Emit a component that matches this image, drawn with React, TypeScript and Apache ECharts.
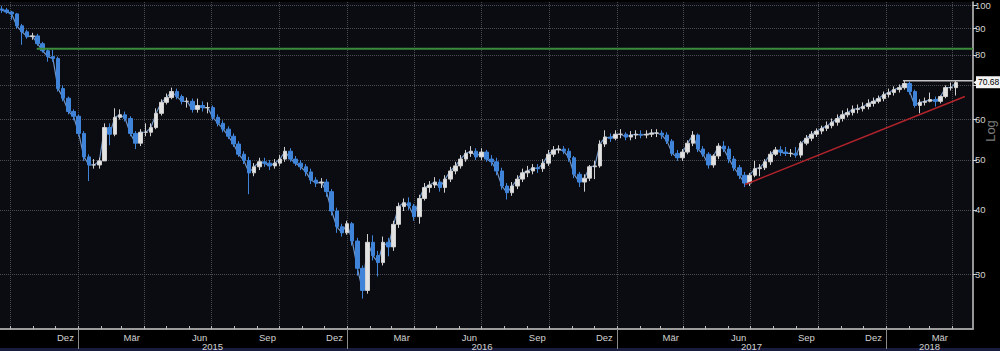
import React, { useEffect, useRef } from "react";
import * as echarts from "echarts";

// ---------- data ----------
const WEEK_START = Date.UTC(2014, 8, 19); // first weekly bar (Fri)
const FIRST_OPEN = 98.2;

const closes = [
  97.8, 96.9, 96.1, 91.1, 88.7, 86.8, 87.1, 84.1, 81.5, 79.4,
  78.7, 68.8, 65.9, 62.1, 60.8, 56.3, 50.7, 48.9, 48.9, 49.8,
  57.8, 56.1, 60.5, 61.2, 60.2, 56.3, 53.9, 56.6, 56.6, 57.8,
  61.6, 64.7, 66.1, 67.9, 66.4, 65.0, 65.0, 62.7, 63.8, 63.2,
  63.2, 60.5, 58.9, 57.4, 55.6, 53.7, 51.3, 49.9, 47.2, 48.5,
  49.6, 49.3, 48.7, 49.3, 50.2, 52.0, 50.2, 49.3, 48.5, 47.4,
  45.7, 45.1, 45.3, 43.4, 39.8, 37.1, 36.1, 37.6, 34.8, 30.8,
  27.9, 34.6, 32.6, 31.6, 34.6, 33.9, 37.5, 40.6, 41.3, 40.7,
  38.8, 42.1, 44.2, 44.7, 45.3, 44.2, 45.9, 47.6, 48.7, 50.2,
  51.5, 52.0, 50.7, 51.8, 50.2, 49.6, 47.6, 44.5, 43.2, 44.5,
  45.9, 47.2, 47.6, 48.3, 48.1, 49.3, 51.3, 52.3, 52.5, 52.0,
  50.5, 46.9, 45.3, 46.1, 48.5, 48.7, 53.7, 55.4, 55.1, 56.1,
  56.1, 55.4, 55.9, 56.1, 55.9, 56.1, 56.4, 56.4, 55.9, 54.4,
  51.5, 50.5, 51.8, 53.9, 55.9, 52.5, 51.3, 48.9, 50.9, 53.2,
  52.5, 50.2, 48.3, 46.7, 45.1, 46.7, 48.1, 48.3, 49.6, 51.3,
  52.3, 51.8, 51.5, 51.5, 51.1, 53.9, 55.1, 56.1, 56.9, 57.6,
  58.3, 59.2, 60.2, 61.2, 61.8, 62.7, 62.9, 63.5, 64.4, 65.0,
  65.8, 67.0, 67.6, 68.5, 69.1, 70.4, 67.9, 63.8, 64.7, 65.0,
  65.5, 65.0, 66.4, 69.1, 69.1, 70.68,
];

const highs = [
  99.6, 98.7, 97.4, 96.5, 91.9, 89.5, 88.3, 87.9, 84.8, 82.2,
  81.9, 79.4, 69.8, 66.4, 62.7, 61.3, 56.9, 51.3, 50.2, 50.5,
  58.9, 58.9, 63.0, 62.7, 62.1, 60.8, 56.9, 57.4, 58.9, 58.9,
  63.0, 65.6, 67.3, 69.1, 68.8, 67.0, 66.1, 65.8, 65.8, 65.0,
  64.7, 63.8, 61.3, 59.7, 58.1, 56.3, 54.4, 52.0, 50.7, 49.3,
  50.5, 50.5, 50.0, 50.2, 51.1, 53.0, 52.7, 50.9, 50.0, 49.1,
  48.1, 46.3, 46.1, 45.9, 43.9, 40.4, 37.6, 38.1, 37.9, 35.3,
  31.2, 35.9, 35.7, 33.3, 35.5, 35.3, 38.1, 41.3, 42.1, 42.3,
  41.1, 42.8, 45.1, 45.5, 46.3, 45.9, 46.7, 48.5, 49.6, 51.1,
  52.3, 53.2, 52.7, 52.7, 52.3, 51.1, 50.5, 48.3, 45.1, 45.3,
  46.7, 48.1, 48.7, 49.1, 49.1, 50.2, 52.3, 53.2, 53.4, 53.2,
  52.7, 50.9, 47.4, 46.9, 48.9, 49.8, 54.6, 57.1, 56.3, 57.1,
  57.4, 56.6, 56.9, 57.1, 57.1, 57.1, 57.4, 57.4, 57.1, 56.6,
  54.9, 52.3, 52.5, 54.6, 56.9, 56.3, 53.2, 51.8, 51.3, 53.9,
  54.4, 53.2, 50.9, 48.9, 47.4, 47.2, 49.8, 49.1, 50.2, 52.0,
  53.0, 53.2, 53.0, 52.5, 53.0, 54.4, 55.9, 56.9, 57.6, 58.3,
  59.4, 60.2, 61.3, 62.4, 63.0, 63.8, 64.1, 64.7, 65.6, 66.1,
  66.7, 67.9, 68.8, 69.5, 70.1, 71.3, 71.0, 68.5, 65.6, 66.1,
  67.6, 66.4, 66.7, 69.8, 70.7, 71.3,
];

const lows = [
  96.5, 96.1, 93.6, 89.9, 83.7, 86.0, 85.6, 83.3, 80.8, 77.6,
  77.6, 67.9, 65.0, 61.3, 59.7, 55.6, 49.8, 45.5, 48.1, 48.1,
  49.8, 53.4, 55.6, 59.9, 59.4, 55.6, 52.5, 53.2, 55.6, 55.6,
  57.4, 61.0, 64.1, 65.6, 65.6, 64.1, 63.2, 61.8, 61.8, 62.1,
  61.6, 59.7, 58.1, 56.6, 54.9, 53.0, 50.7, 49.1, 42.9, 46.5,
  47.8, 48.5, 47.8, 48.1, 48.7, 49.6, 49.6, 48.7, 47.8, 46.5,
  44.9, 44.3, 44.1, 42.4, 39.0, 36.1, 35.5, 35.8, 34.1, 29.8,
  26.9, 27.5, 31.9, 29.7, 31.2, 32.5, 33.3, 36.9, 39.8, 40.0,
  38.1, 37.6, 41.7, 43.2, 44.1, 43.4, 43.2, 45.3, 46.9, 48.1,
  49.6, 50.7, 50.0, 50.0, 49.6, 48.7, 46.7, 43.8, 41.9, 42.6,
  43.9, 45.3, 46.3, 46.9, 47.2, 47.4, 48.7, 50.7, 51.5, 51.3,
  49.6, 46.1, 44.3, 43.4, 45.5, 45.9, 48.3, 53.0, 54.2, 54.6,
  55.1, 54.6, 54.6, 54.9, 55.1, 55.1, 55.4, 55.4, 54.9, 53.7,
  50.9, 49.8, 49.8, 51.3, 53.2, 51.8, 50.7, 48.1, 48.3, 50.2,
  51.8, 49.3, 47.6, 45.9, 44.3, 44.5, 46.3, 46.5, 47.8, 48.9,
  50.9, 50.9, 50.9, 50.7, 50.5, 50.5, 53.4, 54.4, 55.4, 56.1,
  56.9, 57.6, 58.3, 59.4, 60.5, 61.0, 61.6, 62.1, 62.7, 63.5,
  64.4, 65.0, 66.1, 66.7, 67.6, 68.5, 67.0, 63.2, 61.6, 63.8,
  64.7, 63.5, 64.4, 65.9, 68.2, 66.7,
];

const LAST_PRICE = 70.68;
const GREEN_LEVEL = 82.2;
const GREEN_FROM = Date.UTC(2014, 10, 6);
const RESIST_LEVEL = 71.3;
const RESIST_FROM = Date.UTC(2018, 0, 24);
const TREND_FROM: [number, number] = [Date.UTC(2017, 5, 24), 44.8];
const TREND_TO: [number, number] = [Date.UTC(2018, 3, 18), 66.4];

const Y_TICKS = [30, 40, 50, 60, 70, 80, 90, 100];
const Y_LABELS = [30, 40, 50, 60, 80, 90, 100];
const MONTHS_DE = ["Jan", "Feb", "Mär", "Apr", "Mai", "Jun", "Jul", "Aug", "Sep", "Okt", "Nov", "Dez"];
const YEAR_LABELS = [2015, 2016, 2017, 2018];

// axis extents
const X_MIN = Date.UTC(2014, 8, 17, 5);
const X_MAX = Date.UTC(2018, 3, 29);
const Y_MIN = 23.48;
const Y_MAX = 101.34;

const DAY = 86400000;
const L = (v: number) => Math.log10(v);

export default function App() {
  const ref = useRef<HTMLDivElement>(null);

  useEffect(() => {
    document.body.style.margin = "0";
    document.body.style.background = "#000";
    if (!ref.current) return;
    const chart = echarts.init(ref.current, null, { renderer: "svg" });

    const dates = closes.map((_, i) => WEEK_START + i * 7 * DAY);
    const candles = closes.map((c, i) => {
      const o = i === 0 ? FIRST_OPEN : closes[i - 1];
      const lo = Math.min(lows[i], o, c);
      const hi = Math.max(highs[i], o, c);
      return [dates[i], L(o), L(c), L(lo), L(hi)];
    });
    const closeLine = closes.map((c, i) => [dates[i], L(c)]);

    const monthStarts: number[] = [];
    const monthLabelTimes: number[] = [];
    for (let y = 2014; y <= 2018; y++) {
      for (let m = 0; m < 12; m++) {
        const t = Date.UTC(y, m, 1);
        if (t > X_MIN && t < X_MAX) monthStarts.push(t);
        const mid = Date.UTC(y, m, 15);
        if (m % 3 === 2 && mid > X_MIN && mid < X_MAX) monthLabelTimes.push(mid);
      }
    }
    const quarterStarts = monthStarts.filter((t) => new Date(t).getUTCMonth() % 3 === 0);
    const yearStarts = monthStarts.filter((t) => new Date(t).getUTCMonth() === 0);
    const yearLabelTimes = YEAR_LABELS.map((yr) => {
      const a = Date.UTC(yr, 0, 1);
      const b = Math.min(Date.UTC(yr + 1, 0, 1), X_MAX);
      return (a + b) / 2;
    });

    const font = "'Liberation Sans', 'DejaVu Sans Condensed', sans-serif";
    const labelColor = "#d2d2d2";
    const gridDot = { color: "#4b4b52", type: "dotted" as const, width: 1 };

    const baseX = {
      type: "value" as const,
      min: X_MIN,
      max: X_MAX,
      position: "bottom" as const,
      gridIndex: 0,
      scale: true,
    };

    chart.setOption({
      animation: false,
      backgroundColor: "#000",
      grid: {
        left: 0,
        right: 27,
        top: 0,
        bottom: 22,
        show: true,
        backgroundColor: "#0b0b12",
        borderWidth: 0,
        containLabel: false,
      },
      xAxis: [
        {
          ...baseX,
          axisLine: { show: true, lineStyle: { color: "#9c9c9c", width: 2 } },
          axisTick: { show: true, inside: true, length: 3, customValues: monthStarts, lineStyle: { color: "#bdbdbd" } },
          axisLabel: {
            show: true,
            customValues: monthLabelTimes,
            interval: 0,
            margin: 3,
            color: labelColor,
            fontSize: 9.5,
            fontFamily: font,
            formatter: (v: number) => MONTHS_DE[new Date(v).getUTCMonth()],
          },
          splitLine: { show: false },
        },
        {
          ...baseX,
          axisLine: { show: false },
          axisTick: { show: false, customValues: quarterStarts },
          axisLabel: { show: false },
          splitLine: { show: true, lineStyle: gridDot },
        },
        {
          ...baseX,
          axisLine: { show: false },
          axisTick: { show: true, inside: false, length: 20, customValues: yearStarts, lineStyle: { color: "#8a8a8a", width: 1 } },
          axisLabel: {
            show: true,
            customValues: yearLabelTimes,
            interval: 0,
            margin: 12,
            color: labelColor,
            fontSize: 9.5,
            fontFamily: font,
            formatter: (v: number) => String(new Date(v).getUTCFullYear()),
          },
          splitLine: { show: false },
        },
      ],
      yAxis: {
        type: "value",
        position: "right",
        min: L(Y_MIN),
        max: L(Y_MAX),
        axisLine: { show: true, lineStyle: { color: "#c8c8c8", width: 1.5 } },
        axisTick: { show: true, inside: false, length: 4, customValues: Y_TICKS.map(L), lineStyle: { color: "#d0d0d0" } },
        axisLabel: {
          show: true,
          customValues: Y_LABELS.map(L),
          margin: 2,
          color: labelColor,
          fontSize: 9.5,
          fontFamily: font,
          formatter: (v: number) => String(Math.round(Math.pow(10, v))),
        },
        splitLine: { show: true, lineStyle: gridDot },
      },
      graphic: [
        {
          type: "text",
          x: 990,
          y: 131,
          rotation: Math.PI / 2,
          style: {
            text: "Log",
            fill: "#7c7c7c",
            font: `13px ${font}`,
            align: "center",
            verticalAlign: "middle",
          },
          silent: true,
        },
        {
          type: "rect",
          shape: { x: 0, y: 348, width: 1000, height: 3 },
          style: { fill: "#191c3e" },
          silent: true,
        },
      ],
      series: [
        {
          type: "line",
          xAxisIndex: 0,
          symbol: "none",
          silent: true,
          lineStyle: { color: "#6f94c4", width: 1.2 },
          data: closeLine,
          z: 1,
        },
        {
          type: "candlestick",
          xAxisIndex: 0,
          barWidth: 4,
          data: candles,
          z: 2,
          itemStyle: {
            color: "#e2e2e2",
            color0: "#3f84d8",
            borderColor: "#d0d0d0",
            borderColor0: "#3f84d8",
            borderWidth: 1,
          },
          emphasis: { disabled: true },
          markLine: {
            silent: true,
            symbol: "none",
            data: [{ yAxis: L(LAST_PRICE) }],
            lineStyle: { color: "rgba(0,0,0,0)", width: 1, type: "solid" },
            label: {
              show: true,
              position: "end",
              distance: 3,
              formatter: LAST_PRICE.toFixed(2),
              backgroundColor: "#f4f4f4",
              color: "#000",
              fontSize: 8.5,
              fontFamily: font,
              padding: [2, 1, 1, 2],
            },
          },
          markPoint: {
            silent: true,
            data: [
              {
                coord: [X_MAX, L(LAST_PRICE)],
                symbol: "triangle",
                symbolRotate: 90,
                symbolSize: [8, 5],
                symbolOffset: [3, 0],
                itemStyle: { color: "#f4f4f4" },
                label: { show: false },
              },
            ],
          },
        },
        {
          type: "line",
          xAxisIndex: 0,
          symbol: "none",
          silent: true,
          lineStyle: { color: "#3a8c3a", width: 2 },
          data: [
            [GREEN_FROM, L(GREEN_LEVEL)],
            [X_MAX, L(GREEN_LEVEL)],
          ],
          z: 3,
        },
        {
          type: "line",
          xAxisIndex: 0,
          symbol: "none",
          silent: true,
          lineStyle: { color: "#c4c4c4", width: 1.5 },
          data: [
            [RESIST_FROM, L(RESIST_LEVEL)],
            [X_MAX, L(RESIST_LEVEL)],
          ],
          z: 3,
        },
        {
          type: "line",
          xAxisIndex: 0,
          symbol: "none",
          silent: true,
          lineStyle: { color: "#b1242c", width: 1.5 },
          data: [
            [TREND_FROM[0], L(TREND_FROM[1])],
            [TREND_TO[0], L(TREND_TO[1])],
          ],
          z: 3,
        },
      ],
    });

    return () => chart.dispose();
  }, []);

  return <div ref={ref} style={{ position: "absolute", left: 0, top: 0, width: 1000, height: 351 }} />;
}
